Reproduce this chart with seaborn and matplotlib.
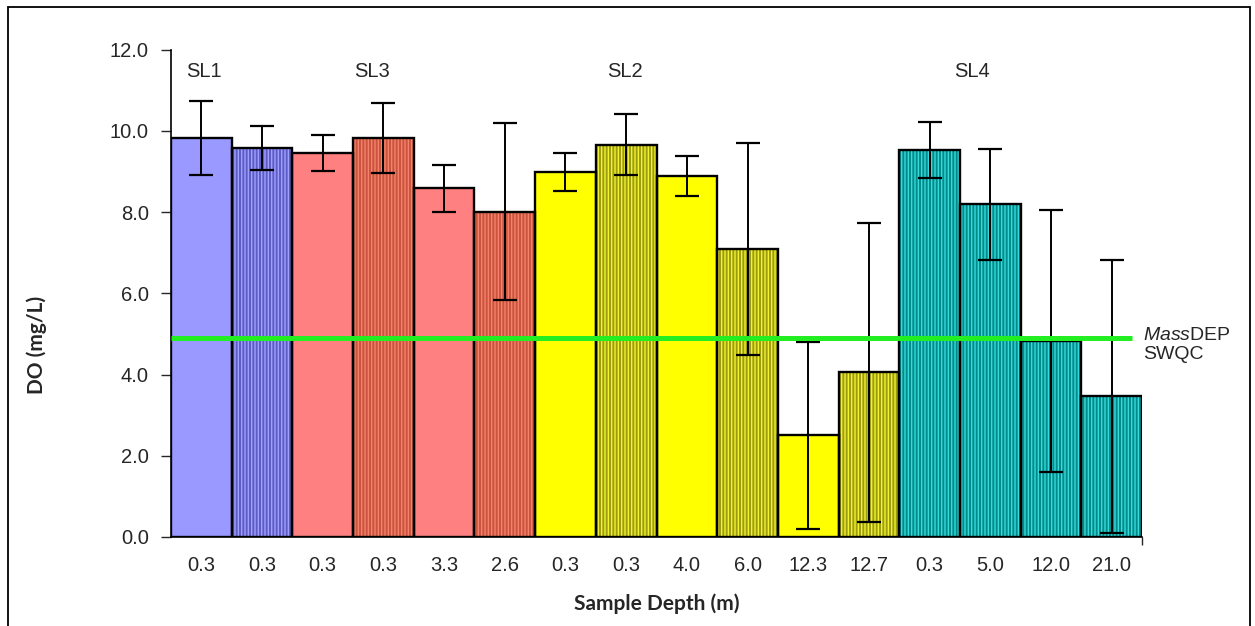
import matplotlib
matplotlib.use("Agg")
import matplotlib.pyplot as plt
from matplotlib.patches import Rectangle
import numpy as np
import pandas as pd
import seaborn as sns

# Dissolved oxygen by station and sample depth
depth_labels = ["0.3", "0.3", "0.3", "0.3", "3.3", "2.6", "0.3", "0.3",
                "4.0", "6.0", "12.3", "12.7", "0.3", "5.0", "12.0", "21.0"]
stations = ["SL1", "SL1", "SL3", "SL3", "SL3", "SL3", "SL2", "SL2",
            "SL2", "SL2", "SL2", "SL2", "SL4", "SL4", "SL4", "SL4"]
do_mean = [9.82, 9.57, 9.45, 9.82, 8.58, 8.01, 8.98, 9.66,
           8.89, 7.09, 2.50, 4.05, 9.52, 8.19, 4.83, 3.46]
do_sd = [0.91, 0.54, 0.45, 0.86, 0.57, 2.18, 0.47, 0.75,
         0.49, 2.61, 2.30, 3.69, 0.69, 1.36, 3.22, 3.36]
striped = [False, True, False, True, False, True, False, True,
           False, True, False, True, True, True, True, True]
swqc = 4.9

station_label_x = {"SL1": 0.04, "SL3": 2.81, "SL2": 6.98, "SL4": 12.7}

# fill colour, stripe colour per station
solid_color = {"SL1": "#9999FF", "SL3": "#FF8080", "SL2": "#FFFF00", "SL4": "#1AA5A5"}
stripe_base = {"SL1": "#5C5CC4", "SL3": "#C9533C", "SL2": "#9C9C12", "SL4": "#008A8A"}
stripe_line = {"SL1": "#A0A0FF", "SL3": "#F5826C", "SL2": "#F2F230", "SL4": "#3ADADA"}

df = pd.DataFrame({"pos": np.arange(len(do_mean)), "do": do_mean,
                   "station": stations})

sns.set_style("white")
plt.rcParams["font.family"] = ["Liberation Sans", "DejaVu Sans"]
plt.rcParams["hatch.linewidth"] = 1.0
plt.rcParams["mathtext.fontset"] = "custom"
plt.rcParams["mathtext.it"] = "Liberation Sans:italic"
plt.rcParams["mathtext.rm"] = "Liberation Sans"

fig = plt.figure(figsize=(12.55, 6.26), dpi=100)
ax = fig.add_axes([171 / 1255, 89 / 626, 971 / 1255, 487.5 / 626])

sns.barplot(data=df, x="pos", y="do", width=1.0, ax=ax, errorbar=None,
            color="#9999FF", saturation=1, linewidth=0, zorder=2)

for patch, st, sp in zip(ax.patches, stations, striped):
    if sp:
        patch.set_facecolor(stripe_base[st])
        patch.set_edgecolor(stripe_line[st])
        patch.set_hatch("|||||")
        patch.set_linewidth(0)
    else:
        patch.set_facecolor(solid_color[st])
        patch.set_edgecolor(solid_color[st])
        patch.set_linewidth(0)
    # black outline drawn on top of the fill
    x0, w, h = patch.get_x(), patch.get_width(), patch.get_height()
    ax.add_patch(Rectangle((x0, 0), w, h, facecolor="none", edgecolor="black",
                           linewidth=1.7, zorder=3))

ax.errorbar(df["pos"], df["do"], yerr=do_sd, fmt="none", ecolor="black",
            elinewidth=1.4, capsize=8.5, capthick=1.6, zorder=5)

# MassDEP surface water quality criterion
ax.plot([-0.5, 15.33], [swqc, swqc], color="#22EE22", linewidth=3.6, zorder=6,
        solid_capstyle="butt")
ax.text(15.52, 4.72, "$\\it{Mass}$DEP\nSWQC", fontsize=14, va="center",
        ha="left", linespacing=1.15, clip_on=False)

for st, xs in station_label_x.items():
    ax.text(xs, 11.45, st, fontsize=14.5, ha="center", va="center")

ax.set_xlim(-0.5, 15.5)
ax.set_ylim(0, 12)
ax.set_yticks(np.arange(0, 12.1, 2.0))
ax.set_yticklabels([f"{v:.1f}" for v in np.arange(0, 12.1, 2.0)], fontsize=14.5)
ax.set_xticks(np.arange(len(depth_labels)))
ax.set_xticklabels(depth_labels, fontsize=14.5)
ax.tick_params(axis="x", length=0, pad=14)
ax.tick_params(axis="y", length=7, width=1, direction="out", pad=9, left=True)
ax.set_xticks([15.5], minor=True)
ax.tick_params(axis="x", which="minor", length=6, width=1, direction="out", bottom=True)

sns.despine(ax=ax)
for s in ("left", "bottom"):
    ax.spines[s].set_color("black")
    ax.spines[s].set_linewidth(1.2)

ax.set_xlabel("Sample Depth (m)", fontsize=15, fontweight="bold",
              family=["Lato", "DejaVu Sans"], labelpad=13)
ax.set_ylabel("DO (mg/L)", fontsize=15, fontweight="bold",
              family=["Lato", "DejaVu Sans"])
ax.yaxis.set_label_coords(-0.128, 0.395)

# outer chart frame
fig.add_artist(Rectangle((8 / 1255, -0.05), 1242 / 1255, 1.05 - 7 / 626,
                         transform=fig.transFigure, facecolor="none",
                         edgecolor="black", linewidth=1.3))

fig.savefig("out.png", dpi=100)
